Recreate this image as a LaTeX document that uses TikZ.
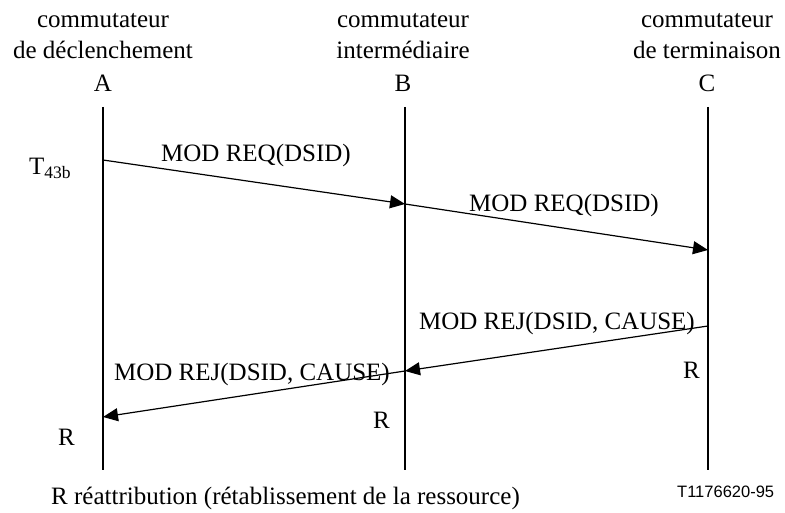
\documentclass[tikz,border=0pt]{standalone}
\usepackage{fontspec}
\setmainfont{Liberation Serif}
\newfontfamily\labelsans{Liberation Sans}
\usetikzlibrary{arrows.meta}
\begin{document}
\begin{tikzpicture}[x=1pt,y=-1pt,
  txt/.style={inner sep=0pt,font=\fontsize{25}{31}\selectfont},
  lifeline/.style={line width=2.4pt},
  msg/.style={line width=1.2pt,-{Triangle[length=15pt,width=13pt]}}]
\useasboundingbox (0,0) rectangle (785,513);

% lifelines
\coordinate (Atop) at (103,107); \coordinate (Abot) at (103,470);
\coordinate (Btop) at (405,107); \coordinate (Bbot) at (405,470);
\coordinate (Ctop) at (708,107); \coordinate (Cbot) at (708,470);
\draw[lifeline] (Atop) -- (Abot);
\draw[lifeline] (Btop) -- (Bbot);
\draw[lifeline] (Ctop) -- (Cbot);

% column headings
\node[txt,anchor=base] (hA1) at (103,28) {commutateur};
\node[txt,anchor=base] (hA2) at (103,59) {de déclenchement};
\node[txt,anchor=base] (hA3) at (103,92) {A};
\node[txt,anchor=base] (hB1) at (403,28) {commutateur};
\node[txt,anchor=base] (hB2) at (403,59) {intermédiaire};
\node[txt,anchor=base] (hB3) at (403,92) {B};
\node[txt,anchor=base] (hC1) at (707,28) {commutateur};
\node[txt,anchor=base] (hC2) at (707,59) {de terminaison};
\node[txt,anchor=base] (hC3) at (707,92) {C};

% message end points on the lifelines
\coordinate (m1s) at (103,160); \coordinate (m1e) at (405,204);
\coordinate (m2s) at (405,204); \coordinate (m2e) at (708,250);
\coordinate (m3s) at (708,326); \coordinate (m3e) at (405,371);
\coordinate (m4s) at (405,371); \coordinate (m4e) at (103,417);
\draw[msg] (m1s) -- (m1e);
\draw[msg] (m2s) -- (m2e);
\draw[msg] (m3s) -- (m3e);
\draw[msg] (m4s) -- (m4e);

% message labels
\node[txt,anchor=base] (l1) at (256,162) {MOD REQ(DSID)};
\node[txt,anchor=base] (l2) at (564,212) {MOD REQ(DSID)};
\node[txt,anchor=base] (l3) at (557,330) {MOD REJ(DSID, CAUSE)};
\node[txt,anchor=base] (l4) at (252,380) {MOD REJ(DSID, CAUSE)};

% timer
\node[txt,anchor=base west] (tmr) at (29,175) {T\textsubscript{43b}};

% reallocation marks
\node[txt,anchor=base west] (rC) at (683,378) {R};
\node[txt,anchor=base west] (rB) at (373,428) {R};
\node[txt,anchor=base west] (rA) at (58,445) {R};

% legend and figure number
\node[txt,anchor=base west] (legend) at (51,504) {R réattribution (rétablissement de la ressource)};
\node[inner sep=0pt,anchor=base west,font=\labelsans\fontsize{16.5}{18}\selectfont] (fig) at (677,497) {T1176620-95};
\end{tikzpicture}
\end{document}
